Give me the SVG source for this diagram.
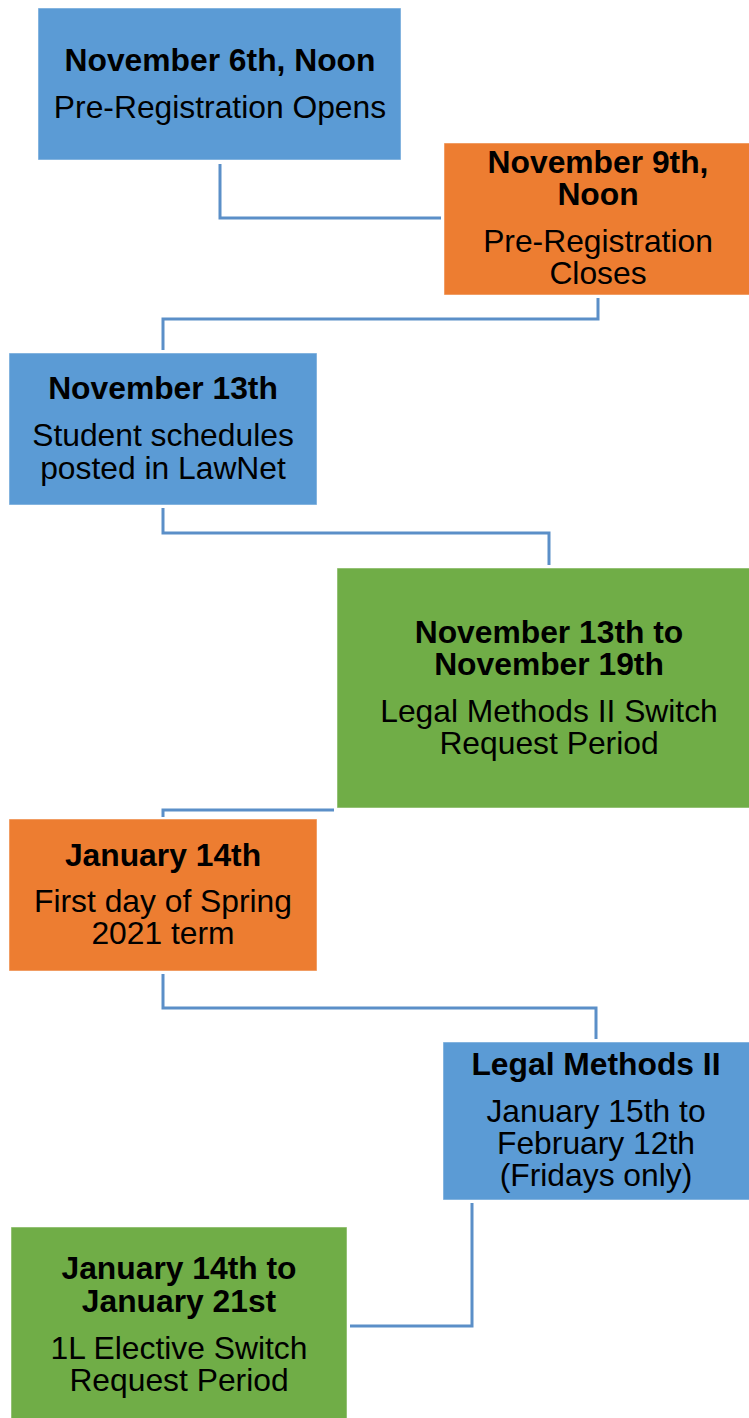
<svg xmlns="http://www.w3.org/2000/svg" width="749" height="1418" viewBox="0 0 749 1418">
<style>
.b{fill:#5B9BD5}
.o{fill:#ED7D31}
.g{fill:#70AD47}
rect{stroke:#ffffff;stroke-opacity:0.5;stroke-width:1}
text{font-family:"Liberation Sans",Arial,sans-serif;font-size:31.8px;fill:#000;text-anchor:middle}
.h{font-weight:bold}
.c{fill:none;stroke:#5B8FC8;stroke-width:3}
</style>
<rect width="749" height="1418" fill="#fff" stroke="none"/>
<g id="connectors">
<polyline class="c" points="220,164 220,218 441,218"/>
<polyline class="c" points="598,298 598,319 163,319 163,350"/>
<polyline class="c" points="163,508 163,533 549,533 549,565"/>
<polyline class="c" points="334,810 163,810 163,817"/>
<polyline class="c" points="163,974 163,1008 596,1008 596,1039"/>
<polyline class="c" points="472,1203 472,1326 350,1326"/>
</g>
<g id="n1">
<rect class="b" x="38" y="8" width="363" height="152"/>
<text class="h" x="220" y="71">November 6th, Noon</text>
<text x="220" y="118">Pre-Registration Opens</text>
</g>
<g id="n2">
<rect class="o" x="444" y="143" width="310" height="152"/>
<text class="h" x="598" y="173">November 9th,</text>
<text class="h" x="598" y="205">Noon</text>
<text x="598" y="252">Pre-Registration</text>
<text x="598" y="284">Closes</text>
</g>
<g id="n3">
<rect class="b" x="9" y="353" width="308" height="152"/>
<text class="h" x="163" y="399">November 13th</text>
<text x="163" y="446">Student schedules</text>
<text x="163" y="479">posted in LawNet</text>
</g>
<g id="n4">
<rect class="g" x="337" y="568" width="420" height="240"/>
<text class="h" x="549" y="643">November 13th to</text>
<text class="h" x="549" y="675">November 19th</text>
<text x="549" y="722">Legal Methods II Switch</text>
<text x="549" y="754">Request Period</text>
</g>
<g id="n5">
<rect class="o" x="9" y="819" width="308" height="152"/>
<text class="h" x="163" y="866">January 14th</text>
<text x="163" y="912">First day of Spring</text>
<text x="163" y="944">2021 term</text>
</g>
<g id="n6">
<rect class="b" x="443" y="1042" width="310" height="158"/>
<text class="h" x="596" y="1075">Legal Methods II</text>
<text x="596" y="1122">January 15th to</text>
<text x="596" y="1154">February 12th</text>
<text x="596" y="1186">(Fridays only)</text>
</g>
<g id="n7">
<rect class="g" x="11" y="1227" width="336" height="195"/>
<text class="h" x="179" y="1279">January 14th to</text>
<text class="h" x="179" y="1312">January 21st</text>
<text x="179" y="1359">1L Elective Switch</text>
<text x="179" y="1391">Request Period</text>
</g>
</svg>
